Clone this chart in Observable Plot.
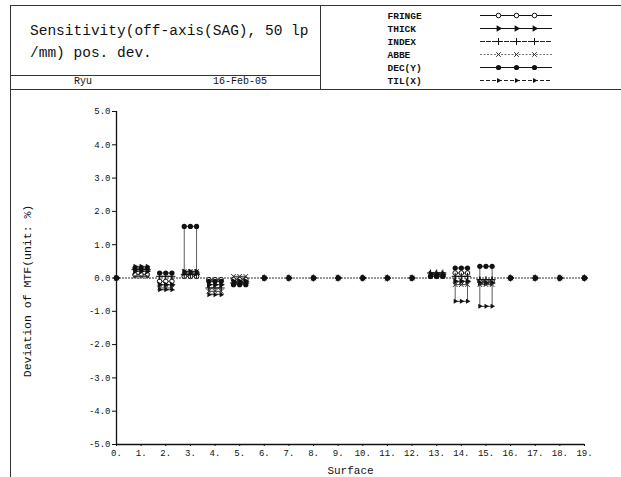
<!DOCTYPE html>
<html>
<head>
<meta charset="utf-8">
<script src="https://cdn.jsdelivr.net/npm/d3@7"></script>
<script src="https://cdn.jsdelivr.net/npm/@observablehq/plot@0.6"></script>
<style>
  html, body { margin: 0; padding: 0; background: #fff; }
  body { width: 621px; height: 477px; position: relative; overflow: hidden;
         font-family: "Liberation Mono", "DejaVu Sans Mono", monospace; color: #111; }
  .ln { position: absolute; background: #333; }
  .txt { position: absolute; white-space: pre; line-height: 1; }
  #legend, #chart { position: absolute; }
</style>
</head>
<body>
  <!-- header frame -->
  <div class="ln" style="left:10px; top:5px; width:611px; height:1px;"></div>
  <div class="ln" style="left:10px; top:5px; width:1px; height:472px;"></div>
  <div class="ln" style="left:320px; top:5px; width:1px; height:84px;"></div>
  <div class="ln" style="left:10px; top:75px; width:310px; height:1px;"></div>
  <div class="ln" style="left:10px; top:89px; width:611px; height:1px;"></div>

  <div class="txt" style="left:30px; top:24px; font-size:14.5px;">Sensitivity(off-axis(SAG), 50 lp</div>
  <div class="txt" style="left:30px; top:46px; font-size:14.5px;">/mm) pos. dev.</div>
  <div class="txt" style="left:74px; top:77px; font-size:10px;">Ryu</div>
  <div class="txt" style="left:213px; top:77px; font-size:10px;">16-Feb-05</div>

  <div id="legend" style="left:320px; top:5px;"></div>
  <div id="chart" style="left:10px; top:89px;"></div>

<script>
// Surfaces on the horizontal axis and the tolerance groups
const surfaces = d3.range(0, 20);
const seriesNames = ["FRINGE", "THICK", "INDEX", "ABBE", "DEC(Y)", "TIL(X)"];
const yTicks = [5, 4, 3, 2, 1, 0, -1, -2, -3, -4, -5];

// Change of MTF (%) per surface for each tolerance
const fringe = [0, 0.10, -0.10, 0.05, -0.05, -0.05, 0, 0, 0, 0, 0, 0, 0, 0.05, 0.15, -0.10, 0, 0, 0, 0];
const thick  = [0, 0.20, -0.20, 0.15, -0.20, -0.10, 0, 0, 0, 0, 0, 0, 0, 0.10, -0.10, -0.15, 0, 0, 0, 0];
const index  = [0, 0.25, 0.05, 0.10, -0.30, -0.15, 0, 0, 0, 0, 0, 0, 0, 0.15, 0.05, -0.05, 0, 0, 0, 0];
const abbe   = [0, 0.05, -0.30, 0.20, -0.40, 0.05, 0, 0, 0, 0, 0, 0, 0, 0.10, -0.20, -0.20, 0, 0, 0, 0];
const decY   = [0, 0.30, 0.15, 1.55, -0.10, -0.20, 0, 0, 0, 0, 0, 0, 0, 0.05, 0.30, 0.35, 0, 0, 0, 0];
const tilX   = [0, 0.35, -0.35, 0.20, -0.50, -0.15, 0, 0, 0, 0, 0, 0, 0, 0.15, -0.70, -0.85, 0, 0, 0, 0];

const seriesValues = [fringe, thick, index, abbe, decY, tilX];

// Marker and line style of each tolerance group
const styles = {
  "FRINGE": {line: {stroke: "#111", strokeWidth: 1}, dot: {symbol: "circle", r: 2.3, fill: "white", stroke: "#111", strokeWidth: 1}},
  "THICK":  {line: {stroke: "#111", strokeWidth: 1.2}, dot: {symbol: "triangle", r: 2.4, fill: "#111", rotate: 90}},
  "INDEX":  {line: {stroke: "#222", strokeWidth: 1, strokeDasharray: "5,1"}, dot: {symbol: "plus", r: 2.4, stroke: "#111", strokeWidth: 1}},
  "ABBE":   {line: {stroke: "#555", strokeWidth: 0.8, strokeDasharray: "2,1.5"}, dot: {symbol: "times", r: 2.2, stroke: "#333", strokeWidth: 1}},
  "DEC(Y)": {line: {stroke: "#111", strokeWidth: 1}, dot: {symbol: "circle", r: 2.6, fill: "#111"}},
  "TIL(X)": {line: {stroke: "#222", strokeWidth: 1, strokeDasharray: "4,2"}, dot: {symbol: "triangle", r: 1.9, fill: "#111", rotate: 90}}
};

// Half width (surface units) of the bracket drawn for a non-zero entry
const HALF = 0.25;

const rows = [];
seriesNames.forEach((name, s) => {
  seriesValues[s].forEach((v, i) => rows.push({series: name, surface: surfaces[i], value: v}));
});
const nonZero = rows.filter(d => d.value !== 0);
const zeros = rows.filter(d => d.value === 0);

const marks = [
  // axes frame
  Plot.ruleX([0], {stroke: "#111", strokeWidth: 1.3}),
  Plot.ruleY([-5], {stroke: "#111", strokeWidth: 1.3}),
  Plot.axisY({ticks: yTicks, tickFormat: d => d.toFixed(1), tickSize: 4, tickPadding: 2, fontSize: 9, label: null}),
  Plot.axisX({ticks: surfaces, tickFormat: d => d + ".", tickSize: 2, tickPadding: 3, fontSize: 9, label: null}),
  // zero baseline
  Plot.ruleY([0], {x1: surfaces[0], x2: surfaces[surfaces.length - 1], stroke: "#333", strokeWidth: 1, strokeDasharray: "2,1"}),
];

seriesNames.forEach(name => {
  const sel = nonZero.filter(d => d.series === name);
  // vertical legs of each bracket, from zero to the value
  marks.push(Plot.ruleX(sel, {x: d => d.surface - HALF, y1: 0, y2: "value", stroke: "#333", strokeWidth: 0.8}));
  marks.push(Plot.ruleX(sel, {x: d => d.surface + HALF, y1: 0, y2: "value", stroke: "#333", strokeWidth: 0.8}));
  // horizontal top of each bracket at the value
  marks.push(Plot.ruleY(sel, {y: "value", x1: d => d.surface - HALF, x2: d => d.surface + HALF, stroke: "#222", strokeWidth: 0.9}));
});

seriesNames.forEach(name => {
  const st = styles[name];
  const sel = nonZero.filter(d => d.series === name);
  for (const k of [-1, 0, 1]) {
    marks.push(Plot.dot(sel, {x: d => d.surface + k * HALF, y: "value", ...st.dot}));
  }
});
// markers of the surfaces with no change; the filled DEC(Y) dot is drawn on top
[...seriesNames].sort((a, b) => (a === "DEC(Y)") - (b === "DEC(Y)")).forEach(name => {
  marks.push(Plot.dot(zeros.filter(d => d.series === name), {x: "surface", y: "value", ...styles[name].dot}));
});

// axis titles
marks.push(Plot.text(["Surface"], {text: d => d, frameAnchor: "bottom", dy: 26, fontSize: 11, textAnchor: "middle", lineAnchor: "middle"}));
marks.push(Plot.text(["Deviation of MTF(unit: %)"], {text: d => d, frameAnchor: "left", rotate: -90, dx: -89, dy: 13, fontSize: 11.5, textAnchor: "middle", lineAnchor: "middle"}));

const chart = Plot.plot({
  width: 611,
  height: 388,
  marginLeft: 106,
  marginRight: 37,
  marginTop: 22,
  marginBottom: 33,
  x: {domain: [0, 19]},
  y: {domain: [-5, 5]},
  style: {fontFamily: "Liberation Mono, monospace", fontSize: "9px", color: "#111", background: "transparent", overflow: "visible"},
  marks
});
document.getElementById("chart").append(chart);

// legend: one row per tolerance group, sample line with three markers
const legendTicks = [1, 2, 3];
const legendMarks = [
  Plot.axisY({tickSize: 0, tickPadding: 93, textAnchor: "start", fontSize: 9.5, fontWeight: "bold", label: null}),
];
seriesNames.forEach(name => {
  const st = styles[name];
  legendMarks.push(Plot.ruleY([name], {...st.line}));
  legendMarks.push(Plot.dot(legendTicks, {x: d => d, y: () => name, ...st.dot}));
});
const legend = Plot.plot({
  width: 301,
  height: 84,
  marginLeft: 160,
  marginRight: 69,
  marginTop: 10,
  marginBottom: 9,
  x: {domain: [0, 4], axis: null},
  y: {type: "point", domain: seriesNames, padding: 0},
  style: {fontFamily: "Liberation Mono, monospace", fontSize: "9.5px", color: "#111", background: "transparent", overflow: "visible"},
  marks: legendMarks
});
document.getElementById("legend").append(legend);
</script>
</body>
</html>
